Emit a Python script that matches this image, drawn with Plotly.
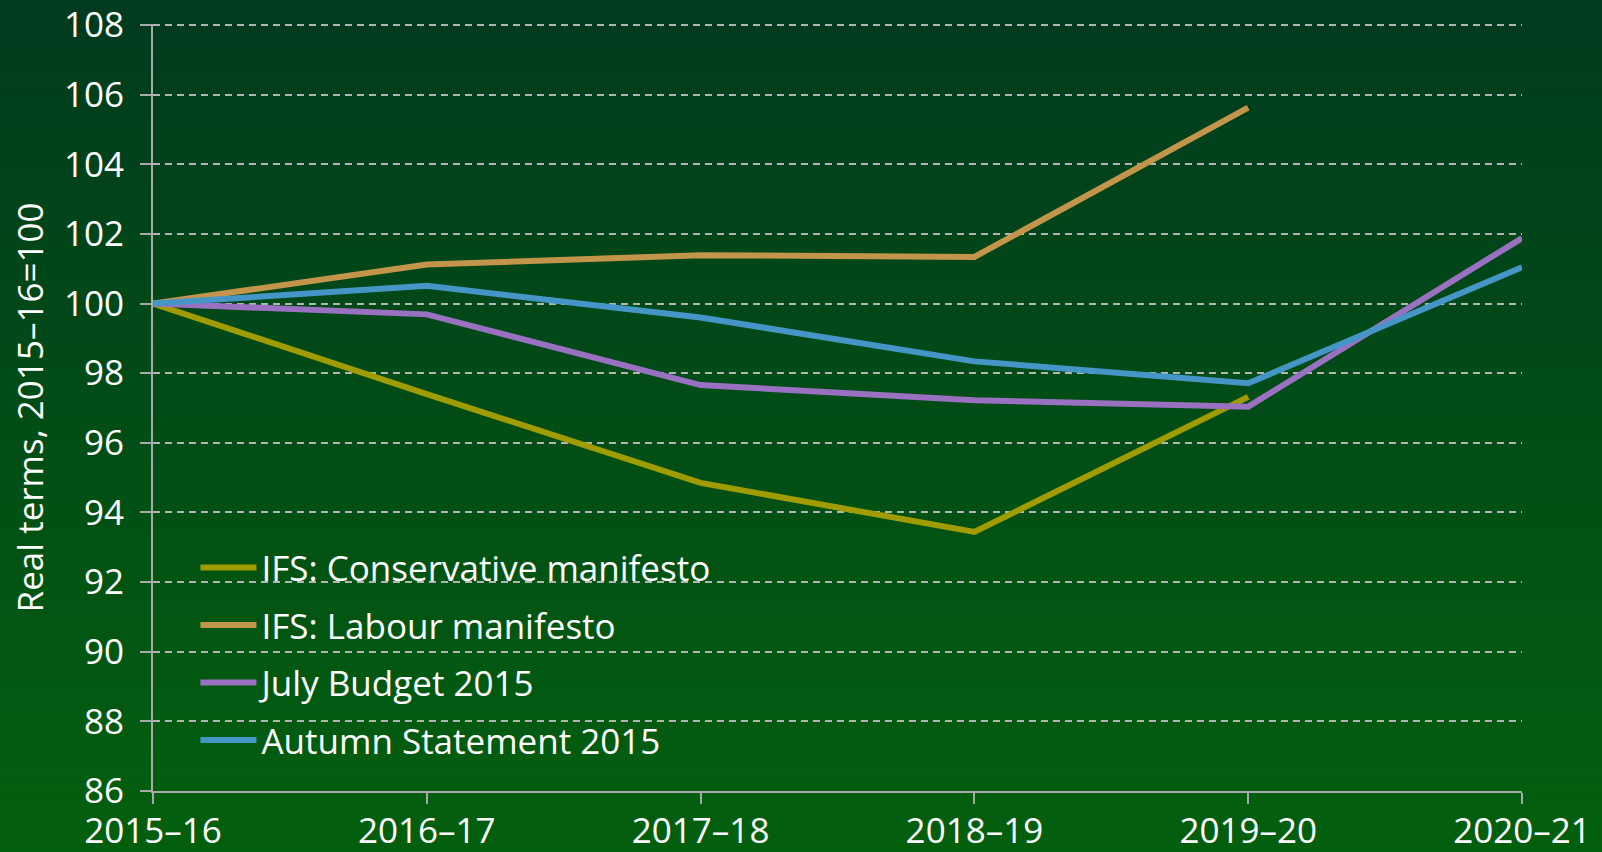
import plotly.graph_objects as go

years = ["2015–16", "2016–17", "2017–18", "2018–19", "2019–20", "2020–21"]
conservative = [100, 97.4, 94.85, 93.44, 97.32]
labour = [100, 101.12, 101.39, 101.34, 105.63]
july_budget = [100, 99.69, 97.66, 97.22, 97.04, 101.88]
autumn_statement = [100, 100.51, 99.6, 98.34, 97.71, 101.04]

series = [
    ("IFS: Conservative manifesto", conservative, "#a09c00"),
    ("IFS: Labour manifesto", labour, "#c3954a"),
    ("July Budget 2015", july_budget, "#9a70c0"),
    ("Autumn Statement 2015", autumn_statement, "#4596c6"),
]

W, H = 1602, 852
ml, mr, mt, mb = 153, 80, 24, 61

fig = go.Figure()
for i, (name, vals, col) in enumerate(series):
    fig.add_trace(go.Scatter(
        x=list(range(len(vals))), y=vals, name=name, mode="lines",
        line=dict(color=col, width=6), legendgroup="g%d" % i,
    ))

# vertical gradient background built from strips (paper coords extended to full figure)
top = (0, 58, 30)
bot = (3, 96, 14)
n = 90
pw = W - ml - mr
ph = H - mt - mb
y_bottom = -mb / ph - 0.01
y_top = 1 + mt / ph + 0.01
x_left = -ml / pw - 0.01
x_right = 1 + mr / pw + 0.01
shapes = []
for i in range(n):
    f0 = i / n
    f1 = (i + 1) / n
    t = (i + 0.5) / n
    c = tuple(round(bot[k] + (top[k] - bot[k]) * t) for k in range(3))
    shapes.append(dict(
        type="rect", xref="paper", yref="paper",
        x0=x_left, x1=x_right,
        y0=y_bottom + (y_top - y_bottom) * f0,
        y1=y_bottom + (y_top - y_bottom) * f1 + 0.002,
        fillcolor="rgb(%d,%d,%d)" % c, line=dict(width=0), layer="below",
    ))

font_family = "Open Sans, Noto Sans, sans-serif"

fig.update_layout(
    width=W, height=H,
    margin=dict(l=ml, r=mr, t=mt, b=mb, autoexpand=False),
    paper_bgcolor="rgb(2,77,22)",
    plot_bgcolor="rgba(0,0,0,0)",
    shapes=shapes,
    font=dict(family=font_family, color="white"),
    showlegend=True,
    legend=dict(
        x=0.031, y=0.3296, xanchor="left", yanchor="top",
        bgcolor="rgba(0,0,0,0)",
        font=dict(size=35, color="white", family=font_family),
        itemwidth=56, tracegroupgap=9,
    ),
    xaxis=dict(
        range=[0, 5], tickmode="array", tickvals=list(range(6)), ticktext=years,
        showgrid=False, zeroline=False, automargin=False,
        showline=True, linecolor="#a9a9a9", linewidth=2,
        ticks="outside", ticklen=11, tickwidth=2, tickcolor="#a9a9a9",
        tickfont=dict(size=35, color="white", family=font_family),
        ticklabelstandoff=-3,
    ),
    yaxis=dict(
        range=[86, 108.03], tickmode="array", tickvals=list(range(86, 109, 2)),
        showgrid=True, gridcolor="#b4b4b4", gridwidth=2, griddash="7px,5px",
        zeroline=False, automargin=False,
        showline=True, linecolor="#a9a9a9", linewidth=2,
        ticks="outside", ticklen=11, tickwidth=2, tickcolor="#a9a9a9",
        tickfont=dict(size=35, color="white", family=font_family),
        ticklabelstandoff=9,
        title=dict(text="Real terms, 2015–16=100", font=dict(size=35, color="white", family=font_family), standoff=10),
    ),
)

fig.write_html(
    "out.html",
    config={"displayModeBar": False},
    post_script="document.body.style.margin='0';document.body.style.background='rgb(2,77,22)';",
)
